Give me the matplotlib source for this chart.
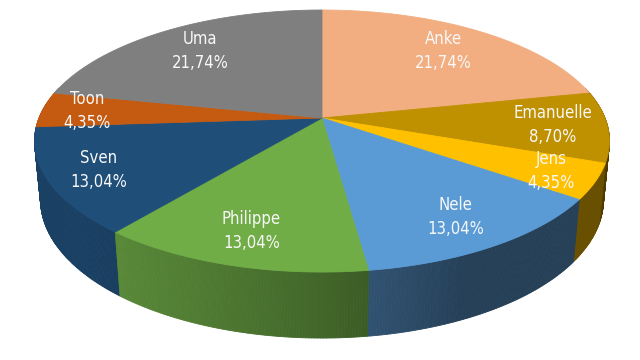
import numpy as np
import matplotlib
matplotlib.use("Agg")
import matplotlib.pyplot as plt
from matplotlib.collections import PolyCollection
from matplotlib.colors import to_rgb

names = ["Anke", "Emanuelle", "Jens", "Nele", "Philippe", "Sven", "Toon", "Uma"]
values = [21.74, 8.70, 4.35, 13.04, 13.04, 13.04, 4.35, 21.74]
colors = ["#F2AE80", "#BF9000", "#FFC000", "#5B9BD5", "#70AD47", "#1F4E79", "#C55A11", "#7F7F7F"]

# label distance from the centre (fraction of radius), excel spreads them a bit unevenly
label_r = [0.75, 0.81, 0.85, 0.80, 0.80, 0.83, 0.84, 0.75]

# perspective view, fitted by eye to the reference
cx, cy = 322, 118
focal, dist = 1439, 5.085
tilt = np.radians(26.66)
thick = 0.233


def project(x, y, z):
    up = y * np.sin(tilt) + z * np.cos(tilt)
    d = dist + y * np.cos(tilt) - z * np.sin(tilt)
    return cx + focal * x / d, cy - focal * up / d


def shade(phi):
    '''darkening of the side wall, light coming from the front left'''
    return 0.41 + 0.42 * np.clip(np.cos(phi - np.radians(205)), 0, None)


fracs = np.array(values) / np.sum(values)
edges = np.radians(90 - 360 * np.concatenate([[0], np.cumsum(fracs)]))

fig = plt.figure(figsize=(6.4, 3.6), dpi=100)
ax = fig.add_axes([0, 0, 1, 1])
ax.set_xlim(0, 640)
ax.set_ylim(360, 0)
ax.axis("off")

# side wall, built from thin strips, far ones first
strips, strip_cols, keys = [], [], []
for i in range(len(values)):
    a0, a1 = edges[i], edges[i + 1]
    n = max(int(abs(a1 - a0) / np.radians(0.5)), 2)
    ang = np.linspace(a0, a1, n + 1)
    base = np.array(to_rgb(colors[i]))
    for a, b in zip(ang[:-1], ang[1:]):
        m = 0.5 * (a + b)
        if np.sin(m) > 0.25:
            continue
        p1 = project(np.cos(a), np.sin(a), 0)
        p2 = project(np.cos(b), np.sin(b), 0)
        p3 = project(np.cos(b), np.sin(b), -thick)
        p4 = project(np.cos(a), np.sin(a), -thick)
        strips.append([p1, p2, p3, p4])
        strip_cols.append(np.clip(base * shade(m % (2 * np.pi)), 0, 1))
        keys.append(np.sin(m))
order = np.argsort(keys)[::-1]
walls = PolyCollection([strips[k] for k in order], facecolors=[strip_cols[k] for k in order],
                       edgecolors=[strip_cols[k] for k in order], linewidths=0.6)
ax.add_collection(walls)

# top faces
tops = []
for i in range(len(values)):
    ang = np.linspace(edges[i], edges[i + 1], 120)
    xs, ys = project(np.cos(ang), np.sin(ang), 0)
    c0 = project(0, 0, 0)
    tops.append([c0] + list(zip(xs, ys)))
ax.add_collection(PolyCollection(tops, facecolors=colors, edgecolors=colors, linewidths=0.6))

# data labels
for i in range(len(values)):
    mid = 0.5 * (edges[i] + edges[i + 1])
    r = label_r[i]
    lx, ly = project(r * np.cos(mid), r * np.sin(mid), 0)
    pct = ("%.2f" % values[i]).replace(".", ",") + "%"
    ax.text(lx, ly - 12, names[i], ha="center", va="center", color="#F8F8F8", fontsize=12,
            family="DejaVu Sans", fontstretch="condensed")
    ax.text(lx, ly + 12, pct, ha="center", va="center", color="#F8F8F8", fontsize=12,
            family="DejaVu Sans", fontstretch="condensed")

fig.savefig("out.png", dpi=100)
